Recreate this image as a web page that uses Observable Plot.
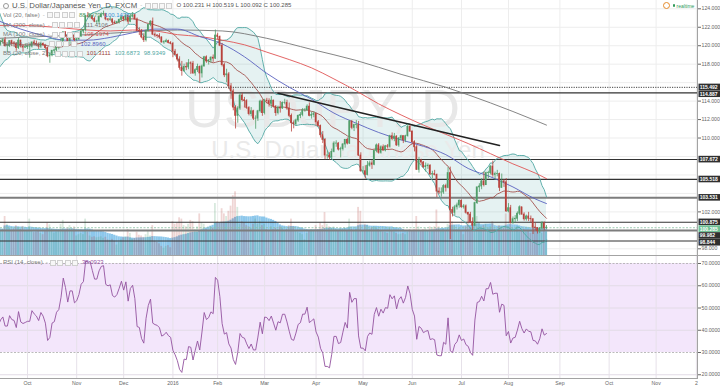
<!DOCTYPE html>
<html><head><meta charset="utf-8">
<script src="https://cdn.jsdelivr.net/npm/d3@7"></script>
<script src="https://cdn.jsdelivr.net/npm/@observablehq/plot@0.6"></script>
<style>
html,body{margin:0;padding:0;background:#fff;}
#wrap{position:relative;width:720px;height:388px;overflow:hidden;font-family:"Liberation Sans",Arial,sans-serif;background:#fff;}
#wrap > svg{position:absolute;left:0;top:0;}
.hl{position:absolute;background:#a3a3a3;}
.row{position:absolute;left:3px;display:flex;align-items:center;white-space:nowrap;color:#7a7a7a;font-size:6px;line-height:7px;}
.bx{display:inline-block;width:4px;height:4px;border:0.6px solid #cfcfcf;background:#f7f7f7;margin-left:1.3px;}
.dash{margin-left:3px;margin-right:1px;color:#b0b0b0;}
.v{margin-left:4px;}
</style></head><body><div id="wrap"></div>
<script>
// ---------------- data ----------------
// bar index 0 = 14 Sep 2015 ... 245 = 24 Aug 2016 (daily, FXCM)
const monthTickIdx = [13,35,56,78,98,119,142,163,185,207,228,251,273,294,312];
const monthTickLabel = ["Oct","Nov","Dec","2016","Feb","Mar","Apr","May","Jun","Jul","Aug","Sep","Oct","Nov","2"];
const priceTicks = [98,100,102,104,106,108,110,112,114,116,118,120,122,124];
const rsiTicks = [20,30,40,50,60,70];

const open = [
120.55,120.12,120.43,120.60,119.95,119.95,120.50,120.25,120.20,119.75,120.55,119.90,119.80,
119.85,119.90,119.90,120.35,120.20,120.10,119.90,120.20,120.05,119.75,118.85,118.95,119.45,119.50,119.85,119.95,120.45,121.45,121.10,120.50,121.10,121.10,
120.60,120.70,121.00,121.55,121.70,123.20,123.15,123.20,122.90,122.60,122.60,123.10,123.40,123.45,122.85,122.80,122.85,122.50,122.45,122.55,122.80,
123.10,122.85,123.20,122.60,123.15,123.30,122.85,121.60,121.55,120.90,120.60,121.60,122.25,122.60,121.20,121.10,121.05,120.90,120.35,120.40,120.50,120.30,
120.20,119.35,119.00,118.50,117.60,117.25,117.70,117.65,118.10,118.05,117.00,117.35,117.70,117.00,117.75,118.75,118.30,118.40,118.70,118.60,
121.10,120.95,120.00,117.90,116.80,116.90,115.60,115.05,113.30,112.40,113.20,114.60,114.10,114.00,113.25,112.60,112.90,112.10,112.10,112.90,113.95,
112.70,114.05,114.00,113.70,114.05,113.40,112.70,113.30,113.20,113.80,113.80,113.20,112.40,111.60,111.50,111.90,112.40,112.50,113.00,113.00,113.40,112.40,112.50,
112.60,111.70,111.30,110.30,109.80,108.10,108.10,107.90,108.50,109.40,109.40,108.75,108.80,109.30,109.80,109.40,111.80,111.10,111.40,111.40,108.10,
106.40,106.40,106.00,107.00,107.25,107.10,108.60,109.20,108.40,109.00,108.65,109.10,109.05,110.20,109.90,110.15,109.20,109.95,110.20,109.75,110.20,111.20,
110.70,109.55,109.00,106.55,107.55,107.35,106.85,106.95,107.00,106.05,106.10,106.00,104.20,104.10,104.10,104.80,104.60,106.20,102.20,101.90,102.50,102.70,
103.20,102.50,102.60,101.90,101.70,100.90,100.50,102.95,104.65,104.75,105.30,104.90,106.20,106.20,106.90,106.00,106.10,106.10,104.60,105.30,105.20,
102.05,102.40,100.80,101.20,101.25,101.80,102.50,101.70,101.20,101.50,101.25,101.20,100.30,100.25,99.90,100.20,100.75,100.231];
const high = [
120.65,120.50,120.75,120.90,120.20,120.55,120.60,120.45,120.30,120.80,120.60,120.05,120.20,
120.10,120.20,120.40,120.60,120.50,120.30,120.40,120.30,120.15,119.85,119.25,119.50,119.65,120.00,120.15,120.80,121.50,121.50,121.15,121.40,121.40,121.20,
120.90,121.15,121.75,121.75,123.30,123.60,123.40,123.25,123.10,122.75,123.10,123.55,123.75,123.50,122.95,123.10,122.90,122.70,122.65,122.90,123.20,
123.15,123.40,123.30,123.40,123.60,123.40,123.00,121.95,121.75,121.30,121.70,122.30,122.70,123.00,121.40,121.20,121.30,120.95,120.55,120.70,120.60,120.45,
120.35,119.60,119.10,118.80,118.30,118.00,118.15,118.50,118.25,118.30,117.50,118.00,117.80,117.90,118.85,118.90,118.50,118.80,119.00,121.70,
121.35,121.05,120.25,118.10,117.45,117.10,115.90,115.30,113.50,113.40,114.80,114.85,114.40,114.15,113.40,113.30,113.00,112.40,113.00,114.10,114.15,
114.20,114.30,114.25,114.50,114.10,113.50,113.45,113.95,113.90,114.20,114.10,113.80,112.60,111.85,112.05,112.50,112.75,113.20,113.20,113.60,113.80,112.80,112.85,
112.70,111.90,111.40,110.70,109.95,108.60,108.40,108.80,109.60,109.70,109.50,109.00,109.40,109.85,110.00,111.90,111.85,111.50,111.90,111.80,108.40,
106.90,107.00,107.45,107.50,107.55,108.70,109.35,109.40,109.15,109.25,109.20,109.30,110.30,110.55,110.50,110.25,110.05,110.30,110.25,110.30,111.45,111.40,
110.75,109.70,109.20,107.90,107.70,107.45,107.30,107.20,107.10,106.40,106.50,106.10,104.60,104.60,104.95,105.00,106.80,106.85,102.50,102.70,102.95,103.30,
103.30,102.80,102.75,101.95,101.95,101.35,103.05,104.70,105.05,105.60,106.30,106.30,106.40,107.00,107.50,106.30,106.50,106.20,106.10,105.50,105.60,
102.90,102.70,101.45,101.60,102.00,102.65,102.50,101.90,101.65,101.95,101.55,101.25,100.80,100.30,100.30,100.95,100.90,100.519];
const low = [
119.95,119.95,120.15,119.85,119.25,119.80,119.90,119.85,119.40,119.60,119.75,119.30,119.70,
119.60,118.65,119.75,120.00,119.90,119.60,119.70,119.90,119.55,118.70,118.10,118.80,119.10,119.25,119.55,119.80,120.35,120.90,120.40,120.10,120.75,120.05,
120.25,120.55,120.90,121.30,121.50,123.00,122.90,122.70,122.50,122.30,122.25,123.00,123.20,122.70,122.60,122.65,122.25,122.30,122.35,122.35,122.70,
122.60,122.60,122.30,122.50,123.00,122.80,121.50,121.10,120.75,120.35,120.40,121.50,122.05,121.10,120.90,120.80,120.70,120.30,120.15,120.30,120.20,120.10,
118.70,118.90,118.25,117.35,116.70,117.10,117.30,117.40,116.90,116.90,116.70,117.10,115.95,116.50,117.70,118.10,117.90,118.10,118.20,118.50,
120.65,119.90,117.70,116.55,116.00,115.25,114.20,112.95,110.98,111.60,113.00,113.90,113.25,113.10,112.40,112.30,111.90,110.95,111.80,112.70,112.35,
112.50,113.70,113.35,113.20,113.25,112.35,112.50,112.70,113.10,113.60,113.00,112.20,110.65,111.00,111.30,111.70,112.10,112.30,112.80,112.90,112.30,112.05,112.20,
111.30,111.15,110.00,109.40,107.65,107.70,107.60,107.70,108.40,109.00,108.60,107.85,108.60,108.90,109.25,109.30,110.90,110.70,111.00,108.00,106.30,
106.10,105.55,105.90,106.85,106.60,107.00,108.40,108.25,108.25,108.55,108.50,108.80,108.90,109.70,109.60,109.10,109.00,109.70,109.40,109.50,110.10,110.60,
109.30,108.50,106.50,106.20,107.05,106.70,106.30,106.60,105.95,105.60,105.90,103.55,103.90,103.60,103.90,104.15,104.50,99.00,101.45,101.60,102.20,102.40,
102.40,102.30,101.75,100.75,100.75,99.95,100.40,102.80,104.10,104.40,104.70,104.85,105.60,106.00,105.75,105.40,105.80,104.20,104.55,104.65,101.95,
101.90,100.70,100.65,100.80,100.95,101.60,101.65,101.00,101.00,100.95,100.80,99.55,99.95,99.60,99.65,100.05,99.95,100.092];
const close = [
120.12,120.43,120.60,119.95,119.95,120.50,120.25,120.20,119.75,120.55,119.90,119.80,119.85,
119.90,119.90,120.35,120.20,120.10,119.90,120.20,120.05,119.75,118.85,118.95,119.45,119.50,119.85,119.95,120.45,121.45,121.10,120.50,121.10,121.10,120.60,
120.70,121.00,121.55,121.70,123.20,123.15,123.20,122.90,122.60,122.60,123.10,123.40,123.45,122.85,122.80,122.85,122.50,122.45,122.55,122.80,123.10,
122.85,123.20,122.60,123.15,123.30,122.85,121.60,121.55,120.90,120.60,121.60,122.25,122.60,121.20,121.10,121.05,120.90,120.35,120.40,120.50,120.30,120.20,
119.35,119.00,118.50,117.60,117.25,117.70,117.65,118.10,118.05,117.00,117.35,117.70,117.00,117.75,118.75,118.30,118.40,118.70,118.60,121.10,
120.95,120.00,117.90,116.80,116.90,115.60,115.05,113.30,112.40,113.20,114.60,114.10,114.00,113.25,112.60,112.90,112.10,112.10,112.90,113.95,112.70,
114.05,114.00,113.70,114.05,113.40,112.70,113.30,113.20,113.80,113.80,113.20,112.40,111.60,111.50,111.90,112.40,112.50,113.00,113.00,113.40,112.40,112.50,112.60,
111.70,111.30,110.30,109.80,108.10,108.10,107.90,108.50,109.40,109.40,108.75,108.80,109.30,109.80,109.40,111.80,111.10,111.40,111.40,108.10,106.40,
106.40,106.00,107.00,107.25,107.10,108.60,109.20,108.40,109.00,108.65,109.10,109.05,110.20,109.90,110.15,109.20,109.95,110.20,109.75,110.20,111.20,110.70,
109.55,109.00,106.55,107.55,107.35,106.85,106.95,107.00,106.05,106.10,106.00,104.20,104.10,104.10,104.80,104.60,106.20,102.20,101.90,102.50,102.70,103.20,
102.50,102.60,101.90,101.70,100.90,100.50,102.95,104.65,104.75,105.30,104.90,106.20,106.20,106.90,106.00,106.10,106.10,104.60,105.30,105.20,102.05,
102.40,100.80,101.20,101.25,101.80,102.50,101.70,101.20,101.50,101.25,101.20,100.30,100.25,99.90,100.20,100.75,100.20,100.285];
const volume = [
110,95,100,150,120,105,98,102,115,108,100,112,96,
95,140,92,88,90,96,85,80,92,125,118,100,86,90,95,120,135,98,105,115,102,110,
75,80,85,80,140,90,75,70,72,68,70,72,66,70,60,58,62,55,40,50,60,
68,72,100,85,62,65,90,78,75,70,80,95,75,115,55,50,45,35,28,35,38,30,
130,120,125,145,140,115,110,120,135,130,100,110,160,125,120,100,95,110,105,200,
130,125,180,160,150,170,190,230,245,185,120,130,125,115,110,105,120,140,120,130,115,
120,100,95,110,100,105,100,110,105,95,100,115,140,110,95,90,85,80,60,85,95,100,98,
115,100,125,115,165,120,110,105,110,100,95,105,100,105,95,140,100,95,100,185,170,
95,120,115,100,105,110,105,100,95,90,88,85,105,95,90,85,80,82,85,80,90,100,
95,100,150,110,95,100,105,95,110,105,110,175,110,95,100,95,120,230,130,115,100,105,
95,80,110,125,105,120,145,150,125,110,115,120,105,110,130,100,90,115,110,105,160,
110,125,105,95,110,90,95,100,90,95,85,115,100,95,90,85,95,88.9];
// closes before the first visible bar (29 Jul - 11 Sep 2015), used only to warm up BB / RSI
const warmupClose = [123.95,124.10,123.90,123.95,124.40,124.80,124.70,124.20,124.60,125.00,124.30,124.40,124.30,124.35,124.45,123.85,123.40,122.00,118.45,118.90,119.85,121.00,121.70,121.20,119.75,120.20,120.00,119.00,119.30,119.70,120.60,120.60,120.55];

// moving averages (bar index -> value)
const ma50Idx = [0,10,20,30,40,50,60,70,80,90,100,110,120,130,140,150,160,170,180,190,200,210,220,230,240,245];
const ma50Val = [122.7,121.8,121.1,120.6,120.6,120.9,121.4,121.8,121.8,121.0,120.2,118.8,117.0,115.5,114.2,112.7,111.6,110.6,109.8,109.1,108.2,106.7,105.8,104.7,103.4,102.9];
const ma100Idx = [0,10,20,30,40,50,60,70,80,90,100,110,120,130,140,150,160,170,180,190,200,210,220,230,240,245];
const ma100Val = [122.2,122.2,122.1,121.9,121.7,121.6,121.7,121.6,121.2,121.0,120.6,120.1,119.3,118.5,117.6,116.4,115.1,113.7,112.5,111.4,110.4,109.4,108.3,107.2,106.2,105.6];
const ma200Idx = [0,20,40,60,80,100,120,140,160,180,200,220,240,245];
const ma200Val = [120.8,121.0,121.2,121.5,121.7,121.6,120.8,119.6,118.4,116.9,115.5,113.8,111.9,111.4];

// drawn trend line and horizontal levels
const trendIdx = [125, 224];
const trendPrice = [114.85, 109.20];
const solidLevels = [114.887, 107.672, 105.518, 100.875, 98.844];
const greyLevels = [103.531, 99.982];
const dottedLevels = [115.492];
const lastPrice = 100.285;

// ---------------- derived ----------------
const N = close.length;
const bars = d3.range(N).map(i => ({i, o: open[i], h: high[i], l: low[i], c: close[i], v: volume[i]}));
const up = bars.filter(d => d.c >= d.o), down = bars.filter(d => d.c < d.o);
const full = warmupClose.concat(close), W = warmupClose.length;
const bb = bars.map(d => {
  const w = full.slice(d.i + W - 19, d.i + W + 1);
  const m = d3.mean(w), s = Math.sqrt(d3.mean(w, x => (x - m) ** 2));
  return {i: d.i, mid: m, up: m + 2 * s, lo: m - 2 * s};
});
let ag = 0, al = 0; const rsiFull = [];
for (let j = 1; j < full.length; j++) {
  const ch = full[j] - full[j - 1], g = Math.max(ch, 0), l = Math.max(-ch, 0);
  if (j <= 14) { ag += g / 14; al += l / 14; } else { ag = (ag * 13 + g) / 14; al = (al * 13 + l) / 14; }
  rsiFull[j] = al === 0 ? 100 : 100 - 100 / (1 + ag / al);
}
const rsi = bars.map(d => ({i: d.i, r: rsiFull[d.i + W]}));
const vma = bars.map(d => ({i: d.i, v: d3.mean(volume.slice(Math.max(0, d.i - 19), d.i + 1))}));
const ma50 = ma50Idx.map((x, k) => ({x, y: ma50Val[k]}));
const ma100 = ma100Idx.map((x, k) => ({x, y: ma100Val[k]}));
const ma200 = ma200Idx.map((x, k) => ({x, y: ma200Val[k]}));
const trend = trendIdx.map((x, k) => ({x, y: trendPrice[k]}));

const priceDomain = [97.274, 124.899];
const pxPerUnit = 255 / (priceDomain[1] - priceDomain[0]);
const labelData = [...dottedLevels, ...solidLevels, ...greyLevels].map(p => ({p, last: false}))
  .concat([{p: lastPrice, last: true}]).sort((a, b) => b.p - a.p);
labelData.forEach((d, k) => { d.ly = k === 0 ? d.p : Math.min(d.p, labelData[k - 1].ly - 6.8 / pxPerUnit); d.t = d.p.toFixed(3); });
// axis tick labels that sit under a level label are hidden by it in the original
const shownPriceTicks = priceTicks.filter(t => labelData.every(d => Math.abs(d.ly - t) * pxPerUnit > 5.5));

const xDomain = [0.94, 312.5];
const labelMap = new Map(monthTickIdx.map((d, k) => [d, monthTickLabel[k]]));
const UPC = "#4f9d68", DNC = "#b8423c";
const baseStyle = {background: "transparent", fontFamily: "Liberation Sans, Arial, sans-serif", fontSize: "5.2px", color: "#666", overflow: "visible"};
const common = {width: 720, height: 256, marginTop: 0, marginBottom: 1, marginLeft: 0, marginRight: 23, style: baseStyle};

const wrap = document.getElementById("wrap");

// layer A: grid + BB fill
const svgA = Plot.plot({...common, style: {...baseStyle, background: "#fff"},
  x: {domain: xDomain, axis: null}, y: {domain: priceDomain, axis: null},
  marks: [
    Plot.ruleY(priceTicks, {stroke: "#ededed"}),
    Plot.ruleX(monthTickIdx, {stroke: "#ededed"}),
    Plot.areaY(bb, {x: "i", y1: "lo", y2: "up", fill: "#4aa3a0", fillOpacity: 0.14})
  ]});
wrap.appendChild(svgA);

// watermark
const ns = "http://www.w3.org/2000/svg";
const wm = document.createElementNS(ns, "svg");
wm.setAttribute("width", 720); wm.setAttribute("height", 256);
wm.innerHTML = '<text x="460" y="127" text-anchor="end" font-family="Liberation Sans, Arial" font-size="54" fill="#e8e8e8">USDJPY, D</text>' +
  '<text x="348" y="158" text-anchor="middle" font-family="Liberation Sans, Arial" font-size="24" fill="#eaeaea">U.S. Dollar/Japanese Yen</text>';
wrap.appendChild(wm);

// layer B: volume
const svgB = Plot.plot({...common,
  x: {domain: xDomain, axis: null}, y: {domain: [0, 981], axis: null},
  marks: [
    Plot.rectY(vma, {x1: d => d.i - 0.5, x2: d => d.i + 0.5, y: "v", fill: "#86c4ea", fillOpacity: 0.95}),
    Plot.rectY(up, {x1: d => d.i - 0.4, x2: d => d.i + 0.4, y: "v", fill: UPC, fillOpacity: 0.22}),
    Plot.rectY(down, {x1: d => d.i - 0.4, x2: d => d.i + 0.4, y: "v", fill: DNC, fillOpacity: 0.22})
  ]});
wrap.appendChild(svgB);

// layer C: price overlay
const svgC = Plot.plot({...common,
  x: {domain: xDomain, axis: null},
  y: {domain: priceDomain, axis: "right", ticks: shownPriceTicks, tickFormat: d3.format(".3f"), tickSize: 3, tickPadding: 1, label: null},
  marks: [
    Plot.ruleY(solidLevels, {stroke: "#333", strokeWidth: 1.2}),
    Plot.ruleY(greyLevels, {stroke: "#7d7d7d", strokeWidth: 2}),
    Plot.ruleY(dottedLevels, {stroke: "#444", strokeWidth: 1, strokeDasharray: "1.2,1.2"}),
    Plot.ruleY([lastPrice], {stroke: "#86bfa0", strokeWidth: 0.8, strokeDasharray: "2,1.5"}),
    Plot.line(bb, {x: "i", y: "up", stroke: "#4fa7a3", strokeWidth: 0.9}),
    Plot.line(bb, {x: "i", y: "lo", stroke: "#4fa7a3", strokeWidth: 0.9}),
    Plot.line(bb, {x: "i", y: "mid", stroke: "#9c3f3a", strokeWidth: 0.8}),
    Plot.line(ma200, {x: "x", y: "y", stroke: "#777", strokeWidth: 0.9, curve: "monotone-x"}),
    Plot.line(ma100, {x: "x", y: "y", stroke: "#e05555", strokeWidth: 0.9, curve: "monotone-x"}),
    Plot.line(ma50, {x: "x", y: "y", stroke: "#5a62c0", strokeWidth: 0.9, curve: "monotone-x"}),
    Plot.line(trend, {x: "x", y: "y", stroke: "#222", strokeWidth: 1.6}),
    Plot.ruleX(up, {x: "i", y1: "l", y2: "h", stroke: UPC, strokeWidth: 0.8}),
    Plot.ruleX(down, {x: "i", y1: "l", y2: "h", stroke: DNC, strokeWidth: 0.8}),
    Plot.rect(up, {x1: d => d.i - 0.36, x2: d => d.i + 0.36, y1: "o", y2: "c", fill: UPC, insetTop: -0.4, insetBottom: -0.4}),
    Plot.rect(down, {x1: d => d.i - 0.36, x2: d => d.i + 0.36, y1: "o", y2: "c", fill: DNC, insetTop: -0.4, insetBottom: -0.4}),
    Plot.text(labelData, {y: "ly", text: "t", frameAnchor: "right", dx: 2.2, textAnchor: "start", fill: "white", fontSize: 5, fontWeight: "bold"})
  ]});
wrap.appendChild(svgC);
// dark boxes behind the level labels on the price axis
const lblByText = new Map(labelData.map(d => [d.t, d]));
svgC.querySelectorAll("text").forEach(t => {
  const d = lblByText.get(t.textContent);
  if (!d) return;
  const b = t.getBBox();
  const r = document.createElementNS(ns, "rect");
  r.setAttribute("x", b.x - 1.2); r.setAttribute("y", b.y - 0.3);
  r.setAttribute("width", 22.5); r.setAttribute("height", b.height + 0.6);
  const tr = t.getAttribute("transform"); if (tr) r.setAttribute("transform", tr);
  r.setAttribute("fill", d.last ? "#6cbf92" : "#2f2f2f");
  t.parentNode.insertBefore(r, t);
});

// RSI pane
const svgR = Plot.plot({width: 720, height: 132, marginTop: 0, marginBottom: 10, marginLeft: 0, marginRight: 23,
  style: {...baseStyle, background: "#fff"},
  x: {domain: xDomain, axis: "bottom", ticks: monthTickIdx, tickFormat: d => labelMap.get(d), tickSize: 0, tickPadding: 3, label: null},
  y: {domain: [18.315, 73.146], axis: "right", ticks: rsiTicks, tickFormat: d3.format(".4f"), tickSize: 3, tickPadding: 1, label: null},
  marks: [
    Plot.rect([{a: 30, b: 70}], {y1: "a", y2: "b", fill: "#f3e6fb"}),
    Plot.ruleY([20, 40, 50, 60], {stroke: "#e2dbe6"}),
    Plot.ruleX(monthTickIdx, {stroke: "#e6e1e9"}),
    Plot.ruleY([30, 70], {stroke: "#a9a9a9", strokeDasharray: "2,1.5", strokeWidth: 0.8}),
    Plot.line(rsi, {x: "i", y: "r", stroke: "#93529f", strokeWidth: 0.9})
  ]});
svgR.style.top = "256px";
wrap.appendChild(svgR);

// separators / axis lines
function hline(css) { const d = document.createElement("div"); d.className = "hl"; Object.assign(d.style, css); wrap.appendChild(d); }
hline({left: "0px", top: "255px", width: "720px", height: "1px"});
hline({left: "697px", top: "0px", width: "1px", height: "379px"});
hline({left: "0px", top: "378px", width: "697px", height: "1px"});

// legends
function boxes() { return '<span class="dash">-</span><span class="bx"></span><span class="bx"></span><span class="bx"></span><span class="bx"></span>'; }
function row(top, html) { const d = document.createElement("div"); d.className = "row"; d.style.top = top + "px"; d.innerHTML = html; wrap.appendChild(d); }
const L = N - 1;
row(2, '<span style="display:inline-block;width:4px;height:4px;border:0.8px solid #999;border-radius:50%;margin-right:3px"></span>' +
  '<span style="font-size:7.8px;color:#555">U.S. Dollar/Japanese Yen, D, FXCM</span>' + boxes() +
  `<span class="v" style="color:#555">O ${open[L].toFixed(3)} H ${high[L].toFixed(3)} L ${low[L].toFixed(3)} C ${close[L].toFixed(3)}</span>`);
row(11.5, 'Vol (20, false)' + boxes() + '<span class="v" style="color:#4f9d68">88.8979</span><span class="v" style="color:#3f8fd4">100.1476</span>');
row(21.5, 'MA (200, close)' + boxes() + '<span class="v" style="color:#777">111.4106</span>');
row(31, 'MA (100, close)' + boxes() + '<span class="v" style="color:#e05555">105.1974</span>');
row(40.5, 'MA (50, close)' + boxes() + '<span class="v" style="color:#5a62c0">102.8960</span>');
row(50, 'BB (20, close, 2)' + boxes() + '<span class="v" style="color:#9c3f3a">101.3111</span><span class="v" style="color:#4fa7a3">103.6873</span><span class="v" style="color:#4fa7a3">98.9349</span>');
row(259, 'RSI (14, close)' + boxes() + '<span class="v" style="color:#93529f">38.0923</span>');

// realtime badge
const rt = document.createElement("div");
rt.style.cssText = "position:absolute;left:663px;top:2px;display:flex;align-items:center;font-size:5px;color:#2f9a5a;white-space:nowrap";
rt.innerHTML = '<span style="display:inline-block;width:5px;height:5px;border:1px solid #e58a2a;border-radius:50%;"></span>' +
  '<span style="display:inline-block;width:2.6px;height:2.6px;background:#2f9a5a;border-radius:50%;margin-left:2.5px;margin-right:1.5px"></span>realtime';
wrap.appendChild(rt);
</script></body></html>
